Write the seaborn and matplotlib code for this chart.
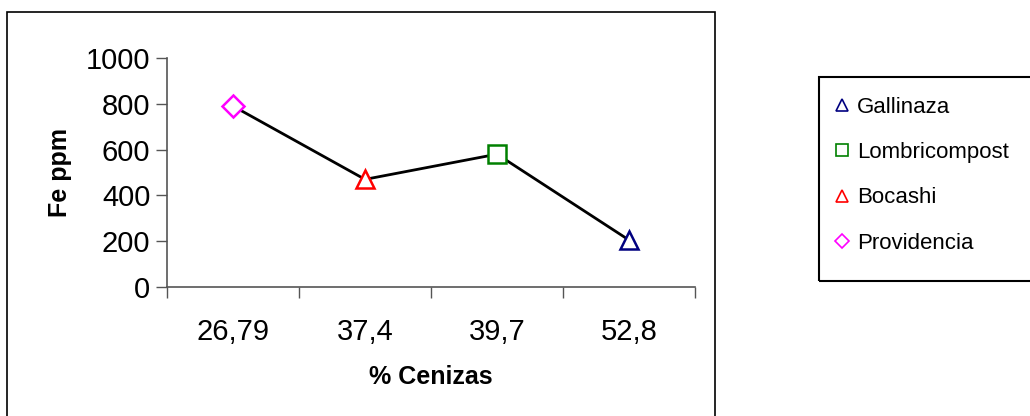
import matplotlib
matplotlib.use("Agg")
import matplotlib.pyplot as plt
import seaborn as sns
import pandas as pd
from matplotlib.lines import Line2D
from matplotlib.patches import Rectangle

# Data
categories = ["26,79", "37,4", "39,7", "52,8"]
fe_ppm = [790, 470, 580, 205]
samples = ["Providencia", "Bocashi", "Lombricompost", "Gallinaza"]
legend_order = ["Gallinaza", "Lombricompost", "Bocashi", "Providencia"]
colors = {"Providencia": "#FF00FF", "Bocashi": "#FF0000",
          "Lombricompost": "#008000", "Gallinaza": "#000080"}
markers = {"Providencia": "D", "Bocashi": "^", "Lombricompost": "s", "Gallinaza": "^"}

sns.set_theme(style="white")
plt.rcParams["font.family"] = ["Liberation Sans", "DejaVu Sans"]
plt.rcParams["text.color"] = "black"
plt.rcParams["axes.labelcolor"] = "black"
plt.rcParams["xtick.color"] = "black"
plt.rcParams["ytick.color"] = "black"

df = pd.DataFrame({"pos": list(range(len(categories))), "fe": fe_ppm, "sample": samples})

fig = plt.figure(figsize=(10.30, 4.16), dpi=100)
ax = fig.add_axes([167/1030, 129/416, 528/1030, 229/416])

sns.lineplot(data=df, x="pos", y="fe", color="black", linewidth=2, ax=ax, legend=False)
for s in samples:
    sub = df[df["sample"] == s]
    sizes = 13 if markers[s] != "D" else 11
    ax.plot(sub["pos"], sub["fe"], linestyle="none", marker=markers[s], markersize=sizes,
            markerfacecolor="white", markeredgecolor=colors[s], markeredgewidth=1.8, zorder=5)

ax.set_xlim(-0.5, len(categories) - 0.5)
ax.set_ylim(0, 1000)
ax.set_yticks([0, 200, 400, 600, 800, 1000])
ax.set_xticks([i - 0.5 for i in range(len(categories) + 1)])
ax.set_xticklabels([])
ax.set_xticks(list(range(len(categories))), minor=True)
ax.set_xticklabels(categories, minor=True)
ax.tick_params(axis="x", which="major", length=8, width=1, color="#555555", direction="out", bottom=True)
ax.tick_params(axis="x", which="minor", length=0, labelsize=21, pad=22, labelcolor="black")
ax.tick_params(axis="y", length=8, width=1, color="#555555", direction="out", left=True,
               labelsize=21, pad=4, labelcolor="black")

for sp in ["top", "right"]:
    ax.spines[sp].set_visible(False)
for sp in ["left", "bottom"]:
    ax.spines[sp].set_color("#555555")
    ax.spines[sp].set_linewidth(1.2)

ax.set_xlabel("% Cenizas", fontsize=18, fontweight="bold", labelpad=14, color="black")
ax.set_ylabel("Fe ppm", fontsize=18, fontweight="bold", labelpad=10, color="black")

handles = [Line2D([], [], linestyle="none", marker=markers[s], markersize=8 if markers[s] != "D" else 7,
                  markerfacecolor="white", markeredgecolor=colors[s], markeredgewidth=1.2)
           for s in legend_order]
leg = fig.legend(handles, legend_order, loc="upper left",
                 bbox_to_anchor=(819/1030, 1 - 81/416),
                 fontsize=16, frameon=False,
                 handlelength=0.7, handletextpad=0.3, labelspacing=1.1, borderpad=0.7,
                 borderaxespad=0)
for t in leg.get_texts():
    t.set_color("black")

# legend box
fig.patches.append(Rectangle((819/1030, 1 - 281/416), 0.25, (281 - 77)/416,
                             transform=fig.transFigure, fill=False, edgecolor="black",
                             linewidth=1.5, zorder=0))
# outer chart frame
fig.patches.append(Rectangle((7/1030, -0.05), (715 - 7)/1030, (416 - 12)/416 + 0.05,
                             transform=fig.transFigure, fill=False, edgecolor="black",
                             linewidth=1.2, zorder=0))

fig.savefig("out.png", dpi=100)
